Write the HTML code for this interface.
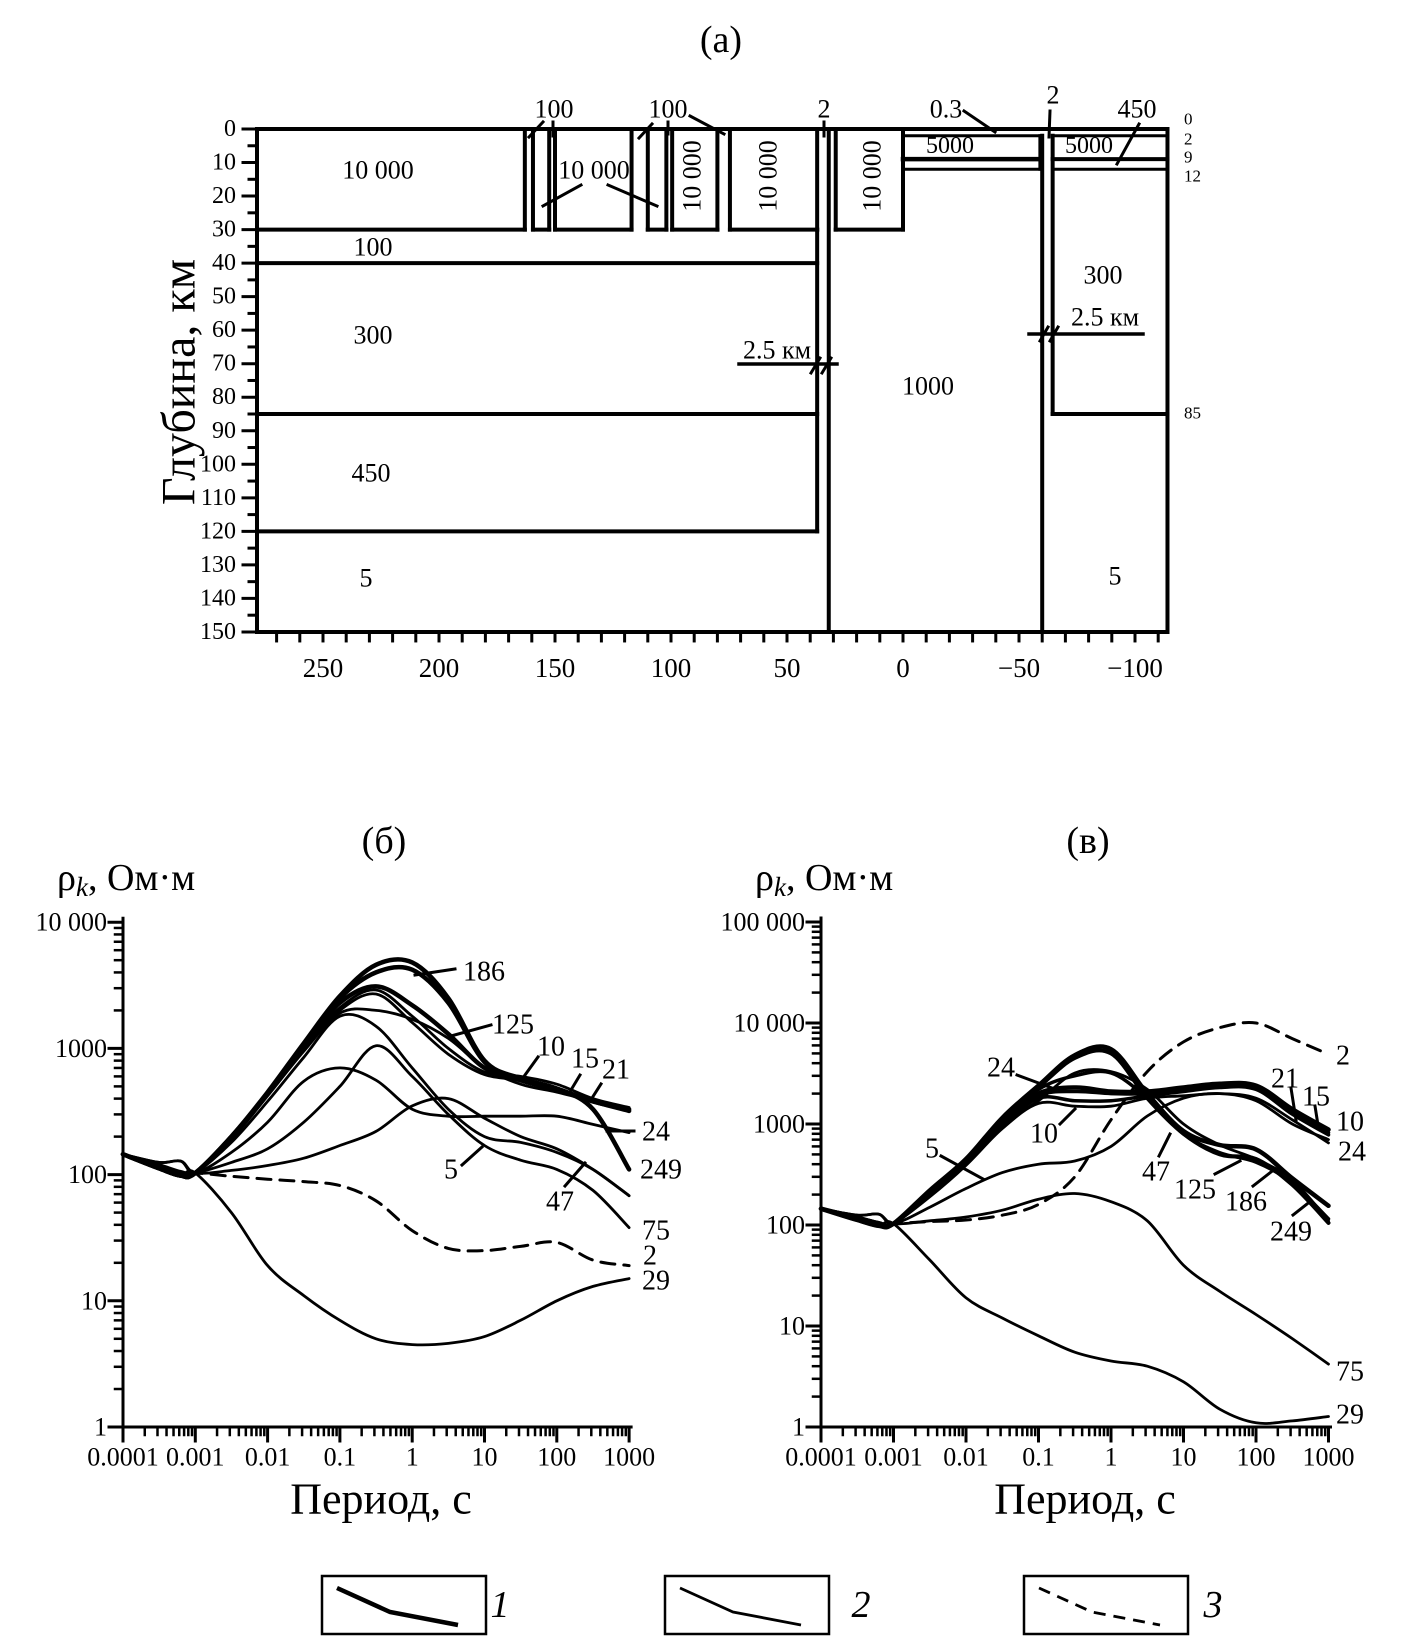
<!DOCTYPE html>
<html><head><meta charset="utf-8">
<style>
html,body{margin:0;padding:0;background:#fff;}
svg{display:block;font-family:"Liberation Serif",serif;}
</style></head>
<body>
<svg id="fig" width="1405" height="1642" viewBox="0 0 1405 1642" xmlns="http://www.w3.org/2000/svg">
<g id="panelA"></g>
<g id="panelB"></g>
<g id="panelV"></g>
<g id="legend"></g>
</svg>
<script>
// ---------- shared period grid (log10 T, s) ----------
const periodsLog = [-4,-3.5,-3.2,-3,-2.5,-2,-1.5,-1,-0.5,0,0.5,1,1.5,2,2.5,3];
const xTickLabels = ["0.0001","0.001","0.01","0.1","1","10","100","1000"];
// ---------- chart (б) series, Ohm·m ----------
const b249 = [145,112,98,103,200,450,1100,2600,4600,4800,2500,800,580,480,330,110];
const b186 = [145,112,98,103,200,440,1080,2500,4000,4200,2300,780,560,470,380,320];
const b125 = [145,112,98,103,200,440,1050,2300,3100,2200,1300,700,560,480,380,330];
const b10  = [145,118,104,103,195,430,1000,2100,2900,1800,1000,650,600,520,400,340];
const b15  = [145,118,104,103,195,430,1000,2000,2700,1600,900,620,560,480,380,330];
const b21  = [145,118,104,103,190,420,950,1900,2000,1700,1200,700,520,450,380,320];
const b47  = [145,118,104,103,180,380,850,1800,1500,700,330,200,180,150,110,68];
const b75  = [145,120,106,103,125,160,260,500,1050,600,300,170,130,110,75,38];
const b24  = [145,125,128,103,150,260,550,700,560,330,290,290,290,290,250,215];
const b5   = [145,125,128,103,108,118,135,170,220,350,400,280,200,160,110,68];
const b2   = [145,112,100,103,97,92,88,82,62,36,26,25,27,29,21,19];
const b29  = [145,112,100,103,50,19,11,7,5,4.5,4.6,5.2,7,10,13,15];
const bYTicks = ["1","10","100","1000","10 000"];
// ---------- chart (в) series, Ohm·m ----------
const v186 = [145,112,98,103,220,450,1150,2400,4800,5500,2000,850,620,560,290,155];
const v249 = [145,112,98,103,215,440,1100,2300,4500,5000,1800,800,500,450,250,105];
const v125 = [145,112,98,103,210,430,1050,2200,3000,3200,1800,800,520,420,260,115];
const v47  = [145,112,98,103,205,420,1000,1700,3200,3300,2200,1000,620,450,280,110];
const v10  = [145,118,104,103,210,430,1050,2000,2300,2100,2100,2300,2500,2400,1400,880];
const v15  = [145,118,104,103,205,420,1000,1900,2100,2000,2000,2200,2400,2300,1300,820];
const v21  = [145,118,104,103,200,410,950,1800,1700,1700,1900,2100,2300,2200,1250,780];
const v24  = [145,120,106,103,190,390,900,1600,1500,1500,1800,1900,2000,1800,1100,650];
const v5   = [145,125,128,103,150,230,330,400,430,600,1200,1800,2000,1700,1000,700];
const v75  = [145,125,128,103,110,120,140,180,205,170,110,40,22,13,7.5,4.2];
const v2   = [145,112,100,103,108,112,125,160,300,1100,3300,6500,9000,10000,7000,4900];
const v29  = [145,112,100,103,45,19,12,8,5.5,4.5,4,2.8,1.5,1.1,1.15,1.27];
const vYTicks = ["1","10","100","1000","10 000","100 000"];

const NS="http://www.w3.org/2000/svg";
function mk(parent,tag,attrs,text){const e=document.createElementNS(NS,tag);for(const k in attrs)e.setAttribute(k,attrs[k]);if(text!==undefined)e.textContent=text;parent.appendChild(e);return e;}
function ln(p,x1,y1,x2,y2,w,name){const e=mk(p,"line",{x1:x1,y1:y1,x2:x2,y2:y2,stroke:"#000","stroke-width":w||4,"stroke-linecap":"square"});


return e;}
function tx(p,x,y,s,size,anchor,name,extra){const e=mk(p,"text",Object.assign({x:x,y:y,"font-size":size,"text-anchor":anchor||"middle","dominant-baseline":"central",fill:"#000"},extra||{}),s);


return e;}
function smooth(pts){let d="M"+pts[0][0].toFixed(1)+","+pts[0][1].toFixed(1);
for(let i=0;i<pts.length-1;i++){const p0=pts[i-1]||pts[i],p1=pts[i],p2=pts[i+1],p3=pts[i+2]||p2;
const c1=[p1[0]+(p2[0]-p0[0])/6,p1[1]+(p2[1]-p0[1])/6],c2=[p2[0]-(p3[0]-p1[0])/6,p2[1]-(p3[1]-p1[1])/6];
d+=" C"+c1[0].toFixed(1)+","+c1[1].toFixed(1)+" "+c2[0].toFixed(1)+","+c2[1].toFixed(1)+" "+p2[0].toFixed(1)+","+p2[1].toFixed(1);}return d;}

// ================= PANEL (a) =================
(function(){
const g=document.getElementById("panelA");
const X=k=>903-k*2.32, D=d=>129+d*3.353;
const L=257,R=X(-114);
tx(g,721,40,"(a)",38,"middle","panel-a-title");
ln(g,L,D(0),L,D(150),4,"y-axis");
ln(g,L,D(150),R,D(150),4,"x-axis");
ln(g,L,D(0),R,D(0),4,"surface-line");
ln(g,R,D(0),R,D(150),4,"right-border");
for(let d=0;d<=150;d+=5){const maj=d%10===0;ln(g,L-(maj?14:8),D(d),L,D(d),3,maj?"y-tick":"y-minor-tick");
 if(maj)tx(g,236,D(d),String(d),24,"end","y-tick-label");}
for(let k=270;k>=-110;k-=10){ln(g,X(k),D(150),X(k),D(150)+9,3,"x-tick");
 if(k%50===0)tx(g,X(k),668,(k<0?"\u2212":"")+Math.abs(k),27,"middle","x-tick-label");}
tx(g,179,382,"Глубина, км",48,"middle","y-axis-title",{transform:"rotate(-90 179 382)"});
const rect=(k1,k2,d1,d2,name)=>{ln(g,X(k1),D(d1),X(k1),D(d2),4,name);ln(g,X(k2),D(d1),X(k2),D(d2),4,name);ln(g,X(k1),D(d2),X(k2),D(d2),4,name);};
ln(g,X(163),D(0),X(163),D(30),4,"block-edge");ln(g,L,D(30),X(163),D(30),4,"layer-30km");
rect(159.5,152.5,0,30,"block-100");
rect(150,117,0,30,"block-10000");
rect(110,102,0,30,"block-100");
rect(99.5,80,0,30,"block-10000");
rect(74.6,37,0,30,"block-10000");
ln(g,X(37),D(30),X(37),D(120),4,"fault-37km");
ln(g,L,D(40),X(37),D(40),4,"layer-40km");
ln(g,L,D(85),X(37),D(85),4,"layer-85km");
ln(g,L,D(120),X(37),D(120),4,"layer-120km");
ln(g,X(32),D(0),X(32),D(150),4,"fault-32km");
rect(29,0,0,30,"block-10000");
ln(g,X(0),D(2),X(-59),D(2),3,"layer-2km");
ln(g,X(0),D(9),X(-59),D(9),4.5,"layer-9km");
ln(g,X(0),D(12),X(-59),D(12),3,"layer-12km");
ln(g,X(-60),D(2),X(-60),D(150),4,"fault-60km");
ln(g,X(-59),D(2),X(-59),D(12),3,"fault-edge");
ln(g,X(-64.5),D(2),X(-64.5),D(85),4,"fault-65km");
ln(g,X(-64.5),D(2),R,D(2),3,"layer-2km-right");
ln(g,X(-64.5),D(9),R,D(9),4,"layer-9km-right");
ln(g,X(-64.5),D(12),R,D(12),3,"layer-12km-right");
ln(g,X(-64.5),D(85),R,D(85),4,"layer-85km-right");
tx(g,1184,119,"0",17,"start","depth-label");tx(g,1184,139,"2",17,"start","depth-label");
tx(g,1184,157,"9",17,"start","depth-label");tx(g,1184,176,"12",17,"start","depth-label");
tx(g,1184,413,"85",17,"start","depth-label");
const F=26;
tx(g,378,170,"10 000",F,"middle","resistivity-label");
tx(g,554,109,"100",F,"middle","resistivity-label");ln(g,529,137,543,122,3);ln(g,553,122,553,136,3);
tx(g,668,109,"100",F,"middle","resistivity-label");ln(g,639,138,652,124,3);ln(g,668,122,668,134,3);ln(g,690,116,724,134,3);
tx(g,594,170,"10 000",F,"middle","resistivity-label");ln(g,543,206,581,185,3);ln(g,608,185,657,206,3);
tx(g,692,176,"10 000",F,"middle","resistivity-label",{transform:"rotate(-90 692 176)"});
tx(g,768,176,"10 000",F,"middle","resistivity-label",{transform:"rotate(-90 768 176)"});
tx(g,872,176,"10 000",F,"middle","resistivity-label",{transform:"rotate(-90 872 176)"});
tx(g,824,109,"2",F,"middle","resistivity-label");ln(g,824,122,824,136,3);
tx(g,946,109,"0.3",F,"middle","resistivity-label");ln(g,964,111,995,132,3);
tx(g,1053,95,"2",F,"middle","resistivity-label");ln(g,1050,111,1049,137,3);
tx(g,1137,109,"450",F,"middle","resistivity-label");ln(g,1139,124,1117,164,3);
tx(g,950,146,"5000",24,"middle","resistivity-label");tx(g,1089,146,"5000",24,"middle","resistivity-label");
tx(g,373,247,"100",F,"middle","resistivity-label");
tx(g,373,335,"300",F,"middle","resistivity-label");
tx(g,371,473,"450",F,"middle","resistivity-label");
tx(g,366,578,"5",F,"middle","resistivity-label");
tx(g,928,386,"1000",F,"middle","resistivity-label");
tx(g,1103,275,"300",F,"middle","resistivity-label");
tx(g,1115,576,"5",F,"middle","resistivity-label");
tx(g,777,350,"2.5 км",F,"middle","width-label");ln(g,739,364,837,364,3.5);ln(g,811,373,820,358,3);ln(g,822,373,831,358,3);
tx(g,1105,317,"2.5 км",F,"middle","width-label");ln(g,1029,334,1143,334,3.5);ln(g,1040,341,1048,327,3);ln(g,1050,341,1058,327,3);
})();

// ================= CHARTS =================
function chart(gid,cfg){
const g=document.getElementById(gid);
const X=l=>cfg.x0+(l+4)*cfg.dx, Y=r=>cfg.yBot-Math.log10(r)*cfg.dy;
const top=cfg.yBot-cfg.dec*cfg.dy;
tx(g,cfg.titleX,841,cfg.title,38,"middle","chart-title");
const yl=tx(g,cfg.x0-66,878,"",38,"start","y-axis-title");
mk(yl,"tspan",{},"ρ");mk(yl,"tspan",{"font-style":"italic","font-size":27,dy:9},"k");mk(yl,"tspan",{dy:-9},", Ом·м");
ln(g,cfg.x0,top-4,cfg.x0,cfg.yBot,3,"y-axis");
ln(g,cfg.x0-14,cfg.yBot,X(3)+2,cfg.yBot,3,"x-axis");
for(let d=0;d<=cfg.dec;d++){const y=cfg.yBot-d*cfg.dy;ln(g,cfg.x0-14,y,cfg.x0,y,3,"y-tick");
 tx(g,cfg.x0-16,y,cfg.yTicks[d],26,"end","y-tick-label");
 if(d<cfg.dec)for(let m=2;m<=9;m++){const yy=y-Math.log10(m)*cfg.dy;ln(g,cfg.x0-8,yy,cfg.x0,yy,2.5,"y-minor-tick");}}
for(let d=0;d<=7;d++){const x=X(d-4);ln(g,x,cfg.yBot,x,cfg.yBot+14,3,"x-tick");
 tx(g,x,cfg.yBot+30,xTickLabels[d],26,"middle","x-tick-label");
 if(d<7)for(let m=2;m<=9;m++){const xx=x+Math.log10(m)*cfg.dx;ln(g,xx,cfg.yBot,xx,cfg.yBot+8,2.5,"x-minor-tick");}}
tx(g,cfg.xTitleX,1499,"Период, с",44,"middle","x-axis-title");
cfg.series.forEach(s=>{
 const pts=periodsLog.map((l,i)=>[X(l),Y(s.v[i])]);
 const p=mk(g,"path",{d:smooth(pts),fill:"none",stroke:"#000","stroke-width":s.w,"stroke-linejoin":"round","stroke-linecap":"round"});
 if(s.dash)p.setAttribute("stroke-dasharray","14 9");
 
 
});
cfg.labels.forEach(l=>{tx(g,l[1],l[2],l[0],28,"middle","curve-label");if(l[3])ln(g,l[3],l[4],l[5],l[6],3,"label-leader");});
}
chart("panelB",{x0:123,dx:72.3,yBot:1427,dy:126.2,dec:4,yTicks:bYTicks,title:"(б)",titleX:384,xTitleX:381,
series:[{name:"curve-29",v:b29,w:2.8},{name:"curve-2",v:b2,w:3,dash:1},{name:"curve-5",v:b5,w:2.8},{name:"curve-24",v:b24,w:2.8},
{name:"curve-75",v:b75,w:2.8},{name:"curve-47",v:b47,w:2.8},{name:"curve-21",v:b21,w:2.8},{name:"curve-15",v:b15,w:2.8},
{name:"curve-10",v:b10,w:2.8},{name:"curve-125",v:b125,w:4.5},{name:"curve-186",v:b186,w:4.5},{name:"curve-249",v:b249,w:4.5}],
labels:[["186",484,972,415,975,455,969],["125",513,1025,451,1036,491,1025],["10",551,1047,525,1075,538,1057],["15",585,1059,571,1090,580,1075],
["21",616,1070,592,1098,601,1084],["24",656,1132,607,1131,634,1131],["249",661,1170],["47",560,1202,565,1186,585,1163],["75",656,1231],["2",650,1256],["29",656,1281],
["5",451,1170,462,1165,482,1147]]});
chart("panelV",{x0:821,dx:72.5,yBot:1427,dy:101,dec:5,yTicks:vYTicks,title:"(в)",titleX:1088,xTitleX:1085,
series:[{name:"curve-29",v:v29,w:2.8},{name:"curve-75",v:v75,w:2.8},{name:"curve-2",v:v2,w:3,dash:1},{name:"curve-5",v:v5,w:2.8},
{name:"curve-24",v:v24,w:2.8},{name:"curve-21",v:v21,w:3.5},{name:"curve-15",v:v15,w:3.5},{name:"curve-10",v:v10,w:4.5},
{name:"curve-47",v:v47,w:2.8},{name:"curve-125",v:v125,w:3.5},{name:"curve-249",v:v249,w:4},{name:"curve-186",v:v186,w:4.5}],
labels:[["2",1343,1056],["21",1285,1079,1291,1088,1296,1120],["15",1316,1097,1315,1106,1318,1125],["10",1350,1122],["24",1352,1152],
["24",1001,1068,1017,1075,1060,1091],["10",1044,1134,1060,1124,1075,1109],["5",932,1149,941,1156,983,1179],["47",1156,1172,1159,1156,1170,1134],
["125",1195,1190,1215,1174,1240,1161],["186",1246,1202,1253,1186,1271,1172],["249",1291,1232,1293,1215,1307,1204],["75",1350,1372],["29",1350,1415]]});

// ================= LEGEND =================
(function(){
const g=document.getElementById("legend");
const boxes=[[322,"1",4.5,0,500],[665,"2",2.8,0,861],[1024,"3",2.8,1,1213]];
boxes.forEach(b=>{
 const r=mk(g,"rect",{x:b[0],y:1576,width:164,height:58,fill:"none",stroke:"#000","stroke-width":2.5});
 
 
 const o=b[0]-322;
 const p=mk(g,"path",{d:`M${337+o},1588 L${390+o},1612 L${458+o},1625`,fill:"none",stroke:"#000","stroke-width":b[2]});
 if(b[3])p.setAttribute("stroke-dasharray","12 8");
 
 
 tx(g,b[4],1605,b[1],38,"middle","legend-entry",{"font-style":"italic"});
});
})();
</script>
</body></html>
